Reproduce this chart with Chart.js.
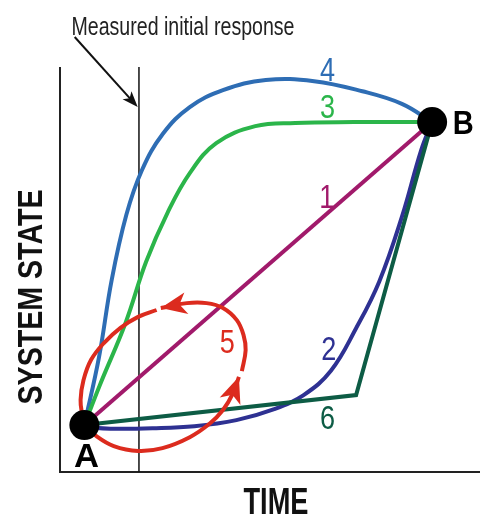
<!DOCTYPE html>
<html>
<head>
<meta charset="utf-8">
<script src="https://cdn.jsdelivr.net/npm/chart.js"></script>
<style>
html,body{margin:0;padding:0;background:#fff}
#wrap{width:495px;height:515px}
</style>
</head>
<body>
<div id="wrap"><canvas id="grafico" width="495" height="515"></canvas></div>
<script>
// unidades do diagrama: tempo 0-10 (x), estado 0-10 (y)
const pontoA = [0.58, 1.16]
const pontoB = [8.86, 8.64]
const tempoMedido = 1.88

const curva1 = [pontoA, pontoB]
const curva2 = [[0.58,1.11],[1.20,1.07],[2.20,1.08],[3.20,1.13],[4.20,1.28],[5.10,1.55],[5.80,1.90],[6.45,2.50],[7.05,3.55],[7.60,4.70],[8.14,6.30],[8.60,7.95],pontoB]
const curva3 = [pontoA,[0.95,2.15],[1.56,3.68],[2.05,5.19],[2.56,6.40],[3.09,7.38],[3.72,8.12],[4.65,8.54],[5.60,8.62],[7.00,8.64],pontoB]
const curva4 = [pontoA,[0.93,2.84],[1.23,4.74],[1.58,6.35],[1.95,7.45],[2.45,8.35],[3.09,9.01],[3.88,9.43],[4.90,9.68],[6.05,9.65],[7.20,9.40],[8.14,9.09],pontoB]
const curva6 = [pontoA,[7.05,1.90],pontoB]
// ciclo 5 em tres trechos (cada trecho termina numa seta)
const ciclo5a = [pontoA,[0.86,0.89],[1.28,0.64],[1.86,0.52],[2.44,0.59],[3.09,0.86],[3.56,1.19],[3.88,1.53],[4.12,1.95],[4.26,2.35]]
const ciclo5b = [[4.33,2.49],[4.42,3.01],[4.37,3.38],[4.21,3.75],[3.88,4.05],[3.49,4.17],[3.02,4.17],[2.40,4.05]]
const ciclo5c = [[2.30,4.00],[1.86,3.83],[1.44,3.56],[1.05,3.19],[0.74,2.77],[0.56,2.27],[0.49,1.78],[0.53,1.41],pontoA]

const rotulos = [
  {t:'4', x:6.37, y:9.65, cor:'#2e6db4'},
  {t:'3', x:6.37, y:8.74, cor:'#2bb54a'},
  {t:'1', x:6.35, y:6.52, cor:'#a11a6b'},
  {t:'2', x:6.40, y:2.77, cor:'#2e3192'},
  {t:'5', x:3.98, y:2.94, cor:'#dc2b1e'},
  {t:'6', x:6.37, y:1.06, cor:'#0d5c45'}
]
const setaTexto = {de:[0.35,10.74], ate:[1.85,9.01]}

const pts = arr => arr.map(p => ({x:p[0], y:p[1]}))

const linha = (dados, cor, extra) => Object.assign({
  data: pts(dados), showLine: true, borderColor: cor, borderWidth: 4,
  pointRadius: 0, tension: 0, clip: false, fill: false
}, extra || {})

function texto(ctx, str, cx, base, size, opts) {
  opts = opts || {}
  ctx.save()
  ctx.font = (opts.peso || 'normal') + ' ' + size + 'px "Liberation Sans", Arial, sans-serif'
  const w = ctx.measureText(str).width
  const sx = opts.largura ? opts.largura / w : (opts.sx || 0.8)
  ctx.translate(cx, base)
  if (opts.ang) ctx.rotate(opts.ang)
  ctx.scale(sx, 1)
  ctx.fillStyle = opts.cor || '#111'
  ctx.textAlign = 'center'
  ctx.textBaseline = 'alphabetic'
  ctx.fillText(str, 0, 0)
  ctx.restore()
}

function ponta(ctx, x, y, dx, dy, L, W, n, cor) {
  const len = Math.hypot(dx, dy)
  dx /= len; dy /= len
  const nx = -dy, ny = dx
  ctx.save()
  ctx.fillStyle = cor
  ctx.beginPath()
  ctx.moveTo(x, y)
  ctx.lineTo(x - L*dx + W*nx, y - L*dy + W*ny)
  ctx.lineTo(x - (L-n)*dx, y - (L-n)*dy)
  ctx.lineTo(x - L*dx - W*nx, y - L*dy - W*ny)
  ctx.closePath()
  ctx.fill()
  ctx.restore()
}

const desenho = {
  id: 'desenho',
  beforeDatasetsDraw(chart) {
    const {ctx, chartArea: a} = chart
    ctx.save()
    ctx.strokeStyle = '#222'
    ctx.lineWidth = 2
    ctx.beginPath()
    ctx.moveTo(a.left, a.top)
    ctx.lineTo(a.left, a.bottom)
    ctx.lineTo(a.right, a.bottom)
    ctx.stroke()
    ctx.restore()
  },
  afterDatasetsDraw(chart) {
    const {ctx, scales: {x, y}} = chart
    // setas do ciclo 5
    chart.data.datasets.forEach((ds, i) => {
      if (!ds.seta) return
      const els = chart.getDatasetMeta(i).data
      const p = els[els.length - 1]
      const q = els[els.length - 2]
      let dx = p.x - (p.cp1x !== undefined ? p.cp1x : q.x)
      let dy = p.y - (p.cp1y !== undefined ? p.cp1y : q.y)
      if (Math.hypot(dx, dy) < 0.5) { dx = p.x - q.x; dy = p.y - q.y }
      ponta(ctx, p.x, p.y, dx, dy, 26, 11, 7, ds.borderColor)
    })
    // seta do texto
    const x0 = x.getPixelForValue(setaTexto.de[0]), y0 = y.getPixelForValue(setaTexto.de[1])
    const x1 = x.getPixelForValue(setaTexto.ate[0]), y1 = y.getPixelForValue(setaTexto.ate[1])
    ctx.save()
    ctx.strokeStyle = '#111'
    ctx.lineWidth = 2
    ctx.beginPath()
    ctx.moveTo(x0, y0)
    ctx.lineTo(x1 - (x1-x0)*0.12, y1 - (y1-y0)*0.12)
    ctx.stroke()
    ctx.restore()
    ponta(ctx, x1, y1, x1 - x0, y1 - y0, 16, 6, 4, '#111')

    rotulos.forEach(r => texto(ctx, r.t, x.getPixelForValue(r.x), y.getPixelForValue(r.y), 33, {cor: r.cor, sx: 0.82}))
    texto(ctx, 'A', x.getPixelForValue(0.63), y.getPixelForValue(0.12), 33, {peso: 'bold', largura: 25, cor: '#000'})
    texto(ctx, 'B', x.getPixelForValue(9.60), y.getPixelForValue(8.35), 33, {peso: 'bold', largura: 21, cor: '#000'})
    texto(ctx, 'Measured initial response', 183, 35, 26, {largura: 223, cor: '#222'})
    texto(ctx, 'TIME', 276, 514, 36, {largura: 65, cor: '#111', peso: 'bold'})
    texto(ctx, 'SYSTEM STATE', 42, 297, 35, {largura: 215, cor: '#111', peso: 'bold', ang: -Math.PI/2})
  }
}

new Chart(document.getElementById('grafico'), {
  type: 'scatter',
  data: {
    datasets: [
      {data: pts([pontoA, pontoB]), pointRadius: 15, pointHoverRadius: 15, backgroundColor: '#000', borderColor: '#000', borderWidth: 0, showLine: false, clip: false},
      linha(ciclo5a, '#dc2b1e', {tension: 0.4, seta: true}),
      linha(ciclo5b, '#dc2b1e', {tension: 0.4, seta: true}),
      linha(ciclo5c, '#dc2b1e', {tension: 0.4}),
      linha(curva1, '#a11a6b'),
      linha(curva3, '#2bb54a', {tension: 0.4}),
      linha(curva4, '#2e6db4', {tension: 0.4}),
      linha(curva6, '#0d5c45'),
      linha(curva2, '#2e3192', {tension: 0.4}),
      linha([[tempoMedido, 0], [tempoMedido, 10]], '#111', {borderWidth: 1.5})
    ]
  },
  options: {
    responsive: false,
    animation: false,
    layout: {padding: {left: 60, right: 5, top: 67, bottom: 43}},
    scales: {
      x: {type: 'linear', min: 0, max: 10, display: false},
      y: {type: 'linear', min: 0, max: 10, display: false}
    },
    plugins: {legend: {display: false}, tooltip: {enabled: false}}
  },
  plugins: [desenho]
})
</script>
</body>
</html>
